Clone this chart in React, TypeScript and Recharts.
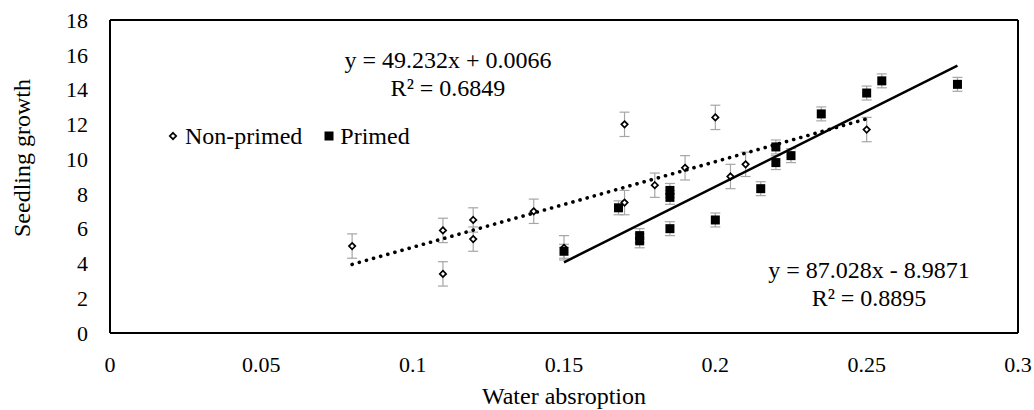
import React from 'react';
import { ScatterChart, Scatter, XAxis, YAxis, ErrorBar, ReferenceLine, Legend } from 'recharts';

const FONT = "'Liberation Serif', 'Times New Roman', serif";

// Non-primed seeds
const nonPrimedX = [0.08, 0.11, 0.11, 0.12, 0.12, 0.14, 0.15, 0.17, 0.17, 0.18, 0.19, 0.2, 0.205, 0.21, 0.25];
const nonPrimedY = [5.0, 5.9, 3.4, 6.5, 5.4, 7.0, 4.9, 12.0, 7.5, 8.5, 9.5, 12.4, 9.0, 9.7, 11.7];
const nonPrimedErr = [0.7, 0.7, 0.7, 0.7, 0.7, 0.7, 0.7, 0.7, 0.7, 0.7, 0.7, 0.7, 0.7, 0.7, 0.7];

// Primed seeds
const primedX = [0.15, 0.168, 0.175, 0.175, 0.185, 0.185, 0.185, 0.2, 0.215, 0.22, 0.22, 0.225, 0.235, 0.25, 0.255, 0.28];
const primedY = [4.7, 7.2, 5.6, 5.3, 8.2, 7.8, 6.0, 6.5, 8.3, 10.7, 9.8, 10.2, 12.6, 13.8, 14.5, 14.3];
const primedErr = [0.4, 0.4, 0.4, 0.4, 0.4, 0.4, 0.4, 0.4, 0.4, 0.4, 0.4, 0.4, 0.4, 0.4, 0.4, 0.4];

// linear trendlines (from the printed equations)
const nonPrimedFit = { slope: 49.232, intercept: 0.0066, x: [0.08, 0.25] };
const primedFit = { slope: 87.028, intercept: -8.9871, x: [0.15, 0.28] };

const xTicks = [0, 0.05, 0.1, 0.15, 0.2, 0.25, 0.3];
const yTicks = [0, 2, 4, 6, 8, 10, 12, 14, 16, 18];

const toPoints = (xs: number[], ys: number[], errs: number[]) =>
  xs.map((x, i) => ({ x, y: ys[i], err: errs[i] }));
const fitPoints = (f: { slope: number; intercept: number; x: number[] }) =>
  f.x.map(x => ({ x, y: f.slope * x + f.intercept }));

const nonPrimedData = toPoints(nonPrimedX, nonPrimedY, nonPrimedErr);
const primedData = toPoints(primedX, primedY, primedErr);

const Diamond = (p: any) => {
  const { cx, cy } = p;
  const r = 3.2;
  return (
    <polygon
      points={`${cx},${cy - r} ${cx + r},${cy} ${cx},${cy + r} ${cx - r},${cy}`}
      fill="#fff" stroke="#000" strokeWidth={1.7}
    />
  );
};

const Square = (p: any) => <rect x={p.cx - 4.5} y={p.cy - 4.5} width={9} height={9} fill="#000" />;

const Hidden = () => <g />;

const LegendBox = () => (
  <div style={{ display: 'flex', alignItems: 'center', fontFamily: FONT, fontSize: 24, lineHeight: '28px', color: '#000', whiteSpace: 'nowrap' }}>
    <svg width={10} height={10} style={{ marginRight: 7 }}>
      <polygon points="5,1.8 8.2,5 5,8.2 1.8,5" fill="#fff" stroke="#000" strokeWidth={1.7} />
    </svg>
    <span>Non-primed</span>
    <svg width={10} height={10} style={{ marginLeft: 22, marginRight: 6 }}>
      <rect x={0.5} y={0.5} width={9} height={9} fill="#000" />
    </svg>
    <span>Primed</span>
  </div>
);

const eqStyle: React.CSSProperties = {
  position: 'absolute', fontFamily: FONT, fontSize: 24, lineHeight: '28px',
  color: '#000', textAlign: 'center', whiteSpace: 'nowrap', transform: 'translateX(-50%)',
};

const axisText = { fill: '#000', fontSize: 22, fontFamily: FONT };

export default function App() {
  return (
    <div style={{ position: 'absolute', left: 0, top: 0, width: 1034, height: 410, background: '#fff', fontFamily: FONT }}>
      <ScatterChart width={1034} height={410} margin={{ top: 20, right: 16, bottom: 0, left: 0 }} style={{ fontFamily: FONT }}>
        <XAxis
          type="number" dataKey="x" domain={[0, 0.3]} ticks={xTicks} allowDataOverflow
          tickLine={false} tickSize={0} tickMargin={23} height={77}
          axisLine={{ stroke: '#000', strokeWidth: 2 }}
          tick={axisText}
          label={{
            content: () => (
              <text x={564} y={404} textAnchor="middle" fill="#000" fontSize={24} style={{ fontFamily: FONT }}>Water absroption</text>
            ),
          }}
        />
        <YAxis
          type="number" dataKey="y" domain={[0, 18]} ticks={yTicks} interval={0}
          tickLine={false} tickSize={0} tickMargin={22} width={110}
          axisLine={{ stroke: '#000', strokeWidth: 2 }}
          tick={axisText}
          label={{
            content: () => (
              <text x={30} y={158} transform="rotate(-90 30 158)" textAnchor="middle" fill="#000" fontSize={24} style={{ fontFamily: FONT }}>Seedling growth</text>
            ),
          }}
        />
        <ReferenceLine y={18} stroke="#000" strokeWidth={2} />
        <ReferenceLine x={0.3} stroke="#000" strokeWidth={2} />
        <Legend
          layout="horizontal" verticalAlign="middle" align="center"
          content={() => <LegendBox />}
          wrapperStyle={{ position: 'absolute', left: 168, top: 122, width: 'auto', height: 28 }}
        />
        <Scatter name="Non-primed" data={nonPrimedData} shape={Diamond} isAnimationActive={false}>
          <ErrorBar dataKey="err" direction="y" width={5} stroke="#a6a6a6" strokeWidth={1.2} />
        </Scatter>
        <Scatter name="Primed" data={primedData} shape={Square} isAnimationActive={false}>
          <ErrorBar dataKey="err" direction="y" width={5} stroke="#a6a6a6" strokeWidth={1.2} />
        </Scatter>
        <Scatter
          name="Linear (Non-primed)" data={fitPoints(nonPrimedFit)} shape={Hidden} legendType="none"
          line={{ stroke: '#000', strokeWidth: 3.6, strokeDasharray: '0.1 7.3', strokeLinecap: 'round' }}
          isAnimationActive={false}
        />
        <Scatter
          name="Linear (Primed)" data={fitPoints(primedFit)} shape={Hidden} legendType="none"
          line={{ stroke: '#000', strokeWidth: 2.5 }}
          isAnimationActive={false}
        />
      </ScatterChart>
      <div style={{ ...eqStyle, left: 448, top: 46 }}>
        y = 49.232x + 0.0066<br />R² = 0.6849
      </div>
      <div style={{ ...eqStyle, left: 869, top: 256 }}>
        y = 87.028x - 8.9871<br />R² = 0.8895
      </div>
    </div>
  );
}
